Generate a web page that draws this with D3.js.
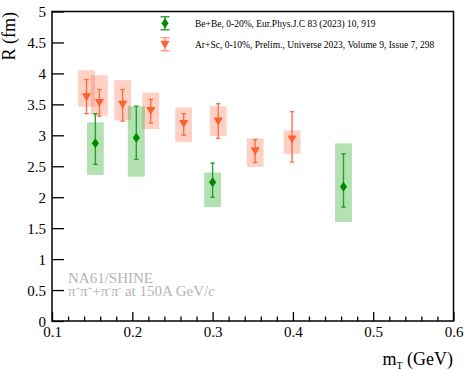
<!DOCTYPE html>
<html>
<head>
<meta charset="utf-8">
<script src="https://cdn.jsdelivr.net/npm/d3@7"></script>
<style>
html,body{margin:0;padding:0;background:#fff;}
svg{display:block;font-family:"Liberation Serif","Times New Roman",serif;}
</style>
</head>
<body>
<svg id="chart" width="464" height="370"></svg>
<script>
// ---- data ----
const xTicks = [0.1, 0.2, 0.3, 0.4, 0.5, 0.6];
const yTicks = [0, 0.5, 1, 1.5, 2, 2.5, 3, 3.5, 4, 4.5, 5];

const beLabel = "Be+Be, 0-20%, Eur.Phys.J.C 83 (2023) 10, 919";
const beMt     = [0.154, 0.205, 0.300, 0.463];
const beR      = [2.87, 2.96, 2.24, 2.17];
const beStatLo = [2.53, 2.61, 2.00, 1.84];
const beStatHi = [3.35, 3.47, 2.55, 2.70];
const beSysLo  = [2.36, 2.33, 1.84, 1.60];
const beSysHi  = [3.21, 3.47, 2.40, 2.87];

const arLabel = "Ar+Sc, 0-10%, Prelim., Universe 2023, Volume 9, Issue 7, 298";
const arMt     = [0.143, 0.159, 0.188, 0.223, 0.264, 0.307, 0.353, 0.399];
const arR      = [3.62, 3.53, 3.50, 3.40, 3.19, 3.23, 2.75, 2.94];
const arStatLo = [3.35, 3.31, 3.23, 3.20, 3.00, 2.95, 2.56, 2.57];
const arStatHi = [3.90, 3.74, 3.74, 3.58, 3.35, 3.51, 2.93, 3.38];
const arSysLo  = [3.46, 3.32, 3.24, 3.10, 2.89, 2.99, 2.49, 2.70];
const arSysHi  = [4.05, 3.97, 3.89, 3.69, 3.45, 3.47, 2.95, 3.08];

const sysHalfWidth = 0.0105;

// ---- layout ----
const svg = d3.select("#chart");
const x = d3.scaleLinear().domain([0.1, 0.6]).range([52, 453.5]);
const y = d3.scaleLinear().domain([0, 5]).range([321, 11.5]);

const green = "#008a00", greenLine = "#2a9d2a", greenBox = "rgba(0,160,0,0.30)";
const orange = "#ff6030", orangeLine = "#ff7040", orangeBox = "rgba(255,100,60,0.30)";

function series(mt, r, sLo, sHi, yLo, yHi) {
  return mt.map((m, i) => ({m, r: r[i], sLo: sLo[i], sHi: sHi[i], yLo: yLo[i], yHi: yHi[i]}));
}
const be = series(beMt, beR, beStatLo, beStatHi, beSysLo, beSysHi);
const ar = series(arMt, arR, arStatLo, arStatHi, arSysLo, arSysHi);

// systematic boxes
function boxes(data, fill) {
  svg.append("g").selectAll("rect").data(data).join("rect")
    .attr("x", d => x(d.m - sysHalfWidth))
    .attr("width", d => x(d.m + sysHalfWidth) - x(d.m - sysHalfWidth))
    .attr("y", d => y(d.yHi))
    .attr("height", d => y(d.yLo) - y(d.yHi))
    .attr("fill", fill);
}
boxes(ar, orangeBox);
boxes(be, greenBox);

// stat error bars
function errbars(data, col) {
  const g = svg.append("g").attr("stroke", col).attr("stroke-width", 1.4).attr("fill", "none");
  g.selectAll("line.v").data(data).join("line").attr("class", "v")
    .attr("x1", d => x(d.m)).attr("x2", d => x(d.m))
    .attr("y1", d => y(d.sHi)).attr("y2", d => y(d.sLo));
  ["sHi", "sLo"].forEach(k => {
    g.selectAll("line." + k).data(data).join("line").attr("class", k)
      .attr("x1", d => x(d.m) - 2.2).attr("x2", d => x(d.m) + 2.2)
      .attr("y1", d => y(d[k])).attr("y2", d => y(d[k]));
  });
}
errbars(ar, orangeLine);
errbars(be, greenLine);

// markers
const diamond = "M0,-5L3.6,0L0,5L-3.6,0Z";
const tri = "M-4.6,-3.6L4.6,-3.6L0,4.4Z";
svg.append("g").selectAll("path").data(ar).join("path")
  .attr("d", tri).attr("fill", orange)
  .attr("transform", d => `translate(${x(d.m)},${y(d.r)})`);
svg.append("g").selectAll("path").data(be).join("path")
  .attr("d", diamond).attr("fill", green)
  .attr("transform", d => `translate(${x(d.m)},${y(d.r)})`);

// axes
const xAxis = svg.append("g").attr("transform", "translate(0,321)")
  .call(d3.axisBottom(x).tickValues(xTicks).tickSize(-9).tickPadding(5).tickFormat(d3.format(".1f")));
const minor = d3.range(0.12, 0.6, 0.02).filter(v => Math.abs(v * 10 - Math.round(v * 10)) > 1e-6);
const xMinor = svg.append("g").attr("transform", "translate(0,321)")
  .call(d3.axisBottom(x).tickValues(minor).tickSize(-4.5).tickFormat(""));
const yAxis = svg.append("g").attr("transform", "translate(52,0)")
  .call(d3.axisLeft(y).tickValues(yTicks).tickSize(-12).tickPadding(6).tickFormat(d => d3.format("")(d)));
[xAxis, xMinor, yAxis].forEach(a => {
  a.select(".domain").remove();
  a.selectAll("line").attr("stroke", "#000").attr("stroke-width", 1.3);
  a.selectAll("text").attr("fill", "#000").style("font-size", "15px").style("font-family", "Liberation Serif, serif");
});
yAxis.selectAll("text").attr("dy", "0.34em");

// frame
svg.append("rect").attr("x", 52).attr("y", 11.5).attr("width", 401.5).attr("height", 309.5)
  .attr("fill", "none").attr("stroke", "#000").attr("stroke-width", 1.5);

// axis titles
svg.append("text").attr("transform", "translate(15,12) rotate(-90)")
  .attr("text-anchor", "end").style("font-size", "18px").text("R (fm)");
const xt = svg.append("text").attr("x", 453).attr("y", 365).attr("text-anchor", "end").style("font-size", "18px");
xt.append("tspan").text("m");
xt.append("tspan").attr("dy", 4).style("font-size", "10px").text("T");
xt.append("tspan").attr("dy", -4).text(" (GeV)");

// legend
const leg = [
  {label: beLabel, col: greenLine, mcol: green, shape: diamond, cy: 23.3, capH: 6.5},
  {label: arLabel, col: "#ff9a80", mcol: orange, shape: tri, cy: 44.3, capH: 6.5}
];
leg.forEach(l => {
  const g = svg.append("g");
  g.append("line").attr("x1", 165).attr("x2", 165).attr("y1", l.cy - l.capH).attr("y2", l.cy + l.capH)
    .attr("stroke", l.col).attr("stroke-width", 1.4);
  [-1, 1].forEach(s => g.append("line").attr("x1", 160.5).attr("x2", 169.5)
    .attr("y1", l.cy + s * l.capH).attr("y2", l.cy + s * l.capH).attr("stroke", l.col).attr("stroke-width", 1.4));
  g.append("path").attr("d", l.shape).attr("fill", l.mcol).attr("transform", `translate(165,${l.cy})`);
  g.append("text").attr("x", 195).attr("y", l.cy + 3.3).style("font-size", "9.5px").attr("fill", "#000").text(l.label);
});

// experiment label
const grey = "#b4b4b4";
svg.append("text").attr("x", 68).attr("y", 283).attr("fill", grey).style("font-size", "15px").text("NA61/SHINE");
const t2 = svg.append("text").attr("x", 68).attr("y", 296).attr("fill", grey).style("font-size", "15px");
t2.append("tspan").text("π");
t2.append("tspan").attr("dy", -5).style("font-size", "8px").text("+");
t2.append("tspan").attr("dy", 5).text("π");
t2.append("tspan").attr("dy", -5).style("font-size", "8px").text("+");
t2.append("tspan").attr("dy", 5).text("+π");
t2.append("tspan").attr("dy", -5).style("font-size", "8px").text("-");
t2.append("tspan").attr("dy", 5).text("π");
t2.append("tspan").attr("dy", -5).style("font-size", "8px").text("-");
t2.append("tspan").attr("dy", 5).text(" at 150A GeV/");
t2.append("tspan").style("font-style", "italic").text("c");
</script>
</body>
</html>
